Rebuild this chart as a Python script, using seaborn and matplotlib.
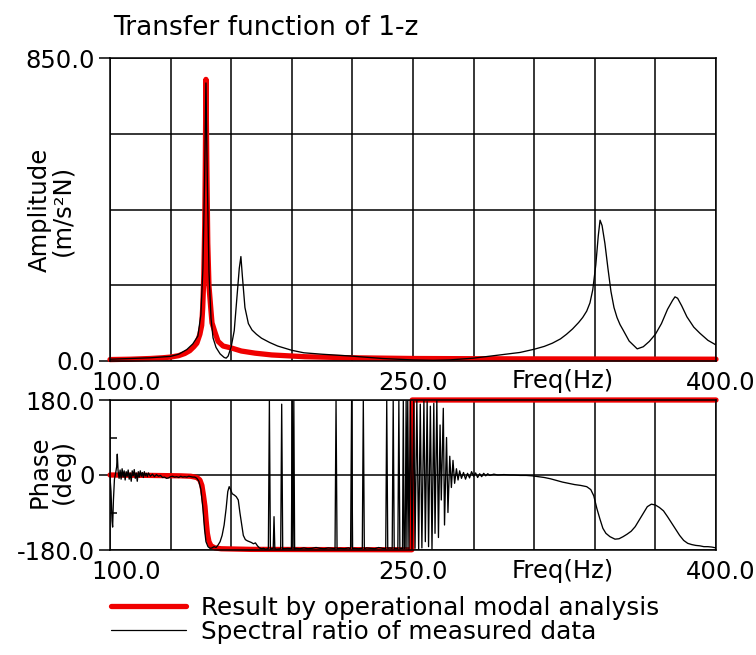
import matplotlib
matplotlib.use("Agg")
import matplotlib.pyplot as plt
import matplotlib.transforms as mtransforms
from matplotlib.lines import Line2D
import pandas as pd
import seaborn as sns

# ---------------- data ----------------
title_text = "Transfer function of 1-z"
legend_labels = ["Result by operational modal analysis", "Spectral ratio of measured data"]
x_ticks = [100, 250, 400]
x_tick_labels = ["100.0", "250.0", "400.0"]
amp_ticks = [0, 850]
amp_tick_labels = ["0.0", "850.0"]
phase_ticks = [-180, 0, 180]
phase_tick_labels = ["-180.0", "0", "180.0"]

amp_red_freq = [100, 110, 120, 126, 130, 134, 137, 139.5, 141.5, 143, 144.5, 145.4, 145.9,
                146.4, 146.9, 147.2, 147.5, 147.9, 148.4, 149, 150, 150.5, 152, 153.5, 156,
                160.4, 165, 171.8, 180, 196.5, 220, 250, 300, 350, 400]
amp_red = [4, 5, 7, 9, 11, 15, 21, 29, 40, 50, 75, 100, 150,
           230, 380, 560, 790, 560, 330, 210, 140, 107, 80, 55, 42,
           36, 28, 22, 17, 12, 9, 7, 6, 5.5, 5]

amp_black_freq = [100, 105, 110, 115, 120, 125, 130, 134, 138, 141, 143.5, 145, 146, 146.8,
                  147.5, 148.2, 149, 150, 151, 152.5, 154.5, 156.5, 157.5, 158.5, 160, 161.5,
                  163, 164, 164.8, 165.5, 166.8, 168.5, 170.3, 172.5, 175, 179, 183, 190, 196,
                  205, 219, 235, 250, 260, 268, 280, 293, 303, 310, 315, 319, 323, 326, 329,
                  332, 334, 336, 337.6, 339, 340.5, 341.7, 342.6, 343.6, 345, 346.5, 348, 349.5,
                  351, 352.5, 354, 357, 361, 364, 367, 370, 373, 376, 378.5, 379.7, 381, 383,
                  385.6, 389, 392, 396, 400]
amp_black = [5, 6, 7, 8, 9, 11, 13, 19, 32, 48, 70, 130, 260, 500,
             780, 500, 250, 120, 65, 38, 20, 10, 8, 14, 40, 85,
             190, 260, 293, 240, 150, 105, 87, 75, 64, 52, 42, 30, 23,
             19, 14, 7, 3, 2, 3, 8, 17, 24, 33, 41, 50, 62, 75, 90,
             108, 122, 140, 163, 200, 270, 350, 395, 380, 330, 260, 195, 150,
             122, 102, 87, 56, 34, 40, 55, 75, 105, 145, 170, 180, 176, 155,
             124, 95, 78, 58, 45]

phase_red_freq = [100, 120, 135, 140, 143, 144.5, 145.5, 146.3, 147, 147.6, 148.2, 149, 150,
                  152, 155, 170, 200, 249.4, 249.6, 300, 400]
phase_red = [0, -1, -2, -3, -6, -12, -25, -50, -75, -110, -140, -160, -170,
             -175, -177, -178.5, -179, -179.5, 180, 180, 180]

phase_black_freq = [
    100.0, 100.5, 101.0, 101.3, 101.7, 102.2, 102.8, 103.3, 103.6, 104.0, 104.5, 105.0, 105.5,
    106.0, 106.5, 107.0, 107.5, 108.0, 108.5, 109.0, 109.5, 110.0, 110.5, 111.0, 111.5, 112.0,
    112.5, 113.0, 113.5, 114.0, 114.5, 115.0, 115.5, 116.0, 116.5, 117.0, 117.5, 118.0, 118.5,
    119.0, 120, 121, 122, 123, 124, 125, 126, 127, 128, 129, 130, 131, 132, 133, 134, 135, 136,
    137, 138, 139, 140, 141, 142, 143,
    144, 145, 146, 146.8, 147.5, 148.5, 149.5, 150.5, 151.5, 152.5, 153.5, 154.5, 155.5, 156.5,
    157.5, 158.3, 159, 159.7, 160.5, 161.5, 162.5, 163.5, 164.3, 165.2, 166, 167, 168, 169, 170,
    171, 172, 173, 174, 175, 176, 177, 178, 178.4,
    178.9, 179.4, 180, 180.8, 181.2, 181.6, 182.5, 184.5, 185, 185.5, 186, 188, 189.8, 190.2,
    190.6, 191.0, 191.4, 192, 194, 196, 198, 200, 202, 204, 206, 208, 210, 211.4, 211.9, 212.4,
    214, 216, 218, 219.1, 219.6, 220.1, 221, 223, 224.9, 225.4, 225.9, 227, 229, 231, 233, 235,
    236.5, 237, 237.5, 238.5, 239.7, 240.2, 240.7, 241.5, 242.5, 243, 243.5, 244.3, 244.8, 245.2,
    245.6, 246.1, 246.6, 247.0, 247.4,
    248.0, 248.7, 249.5, 250.4, 251.0, 251.9, 252.8, 253.6, 254.4, 255.4, 256.1, 257.0, 257.7,
    258.6, 259.4, 260.3, 260.9, 261.8, 262.6, 263.4, 264.0, 265.0, 265.6, 266.6, 267.3, 268.2,
    269.0, 269.8, 270.6, 271.5, 272.3, 273.1, 274, 275, 276, 277, 278, 279, 280, 281, 282, 283,
    284, 285, 286, 287, 288, 290, 292, 295, 298, 300, 303, 306, 309, 312, 315, 318, 321, 324,
    327, 330, 333, 336, 338, 339.5, 341, 342.5, 344, 345.5, 347.5, 350, 352, 354, 356, 358, 360,
    362, 364, 366, 368, 370, 372, 374, 376, 378, 380, 382, 384, 386, 388, 390, 392, 394, 396,
    398, 400]
phase_black = [
    -5, -40, -110, -125, -60, -10, 5, 20, 50, 10, -8, 12, -10,
    15, -5, 10, -12, 8, -3, 12, -10, 5, -15, 10, -2, 13,
    -8, 5, -15, 8, -5, 10, -3, 6, -6, 8, -2, 4, -4,
    5, -3, 2, -4, 1, -3, -1, -6, -5, -8, -7, -4, -3, -5, -4, -6, -3, -5,
    -4, -5, -3, -4, -5, -5, -8,
    -15, -35, -80, -130, -160, -172, -176, -175, -172, -174, -168, -160, -145, -120,
    -80, -40, -28, -35, -45, -48, -52, -60, -90, -120, -145, -155, -158, -160, -162,
    -165, -163, -170, -175, -177, -176, -178, -177, -176,
    178, -178, -177, -176, -100, -177, -178, -177, 170, -178, -177, -176, -177, 178,
    -177, 178, -178, -176, -177, -175, -177, -176, -174, -176, -177, -175, -176, -177, 178, -177,
    -176, -177, -175, -177, 178, -177, -176, -177, -176, 178, -177, -175, -176, -177, -174, -176,
    -177, 178, -176, -175, -176, 178, -177, -176, -177, 178, -177, -176, -177, 178,
    -177, -176, 178, -177, 178,
    -178, 178, -178, 177, -176, 178, -178, 170, -175, 178, -160, 176, -172,
    165, -178, 172, -140, 178, -150, 120, -60, 160, -120, 90, -90, 45,
    -30, 35, -20, 15, -12, 10, -8, 6, -10, 4, -7, 8, -3, 5, -6, 3,
    -4, 4, -2, 3, -1, 2, 0, 1, 0, 0, -1, -1, -2, -4, -6, -9, -13, -17,
    -20, -23, -25, -28, -35, -50, -80, -105, -128, -140, -148, -154, -153, -148, -142, -135, -124,
    -108, -92, -76, -70, -72, -78, -86, -100, -115, -130, -145, -157, -164, -167, -169, -170, -172, -172,
    -173, -175]

# ---------------- style ----------------
sns.set_theme(style="white")
plt.rcParams['font.family'] = ['DejaVu Sans']
plt.rcParams.update({"text.color": "black", "axes.labelcolor": "black",
                     "xtick.color": "black", "ytick.color": "black",
                     "xtick.labelcolor": "black", "ytick.labelcolor": "black"})
RED = "#f00000"
FS = 17.5

fig = plt.figure(figsize=(7.56, 6.55), dpi=100)
W, H = 756, 655
ax1 = fig.add_axes([110 / W, 1 - 361 / H, 606 / W, 303 / H])
ax2 = fig.add_axes([110 / W, 1 - 550 / H, 606 / W, 150 / H])

df_ar = pd.DataFrame({"f": amp_red_freq, "a": amp_red})
df_ab = pd.DataFrame({"f": amp_black_freq, "a": amp_black})
df_pr = pd.DataFrame({"f": phase_red_freq, "p": phase_red})
df_pb = pd.DataFrame({"f": phase_black_freq, "p": phase_black})

sns.lineplot(data=df_ar, x="f", y="a", ax=ax1, color=RED, lw=3.8, estimator=None, sort=False, zorder=3)
sns.lineplot(data=df_ab, x="f", y="a", ax=ax1, color="black", lw=0.95, estimator=None, sort=False, zorder=4)
sns.lineplot(data=df_pr, x="f", y="p", ax=ax2, color=RED, lw=3.8, estimator=None, sort=False, zorder=3)
sns.lineplot(data=df_pb, x="f", y="p", ax=ax2, color="black", lw=0.95, estimator=None, sort=False, zorder=4)
ax1.lines[0].set_clip_on(False)
ax2.lines[0].set_clip_on(False)

minor_x = [130, 160, 190, 220, 280, 310, 340, 370]
for ax in (ax1, ax2):
    ax.set_xlim(100, 400)
    ax.set_xlabel("")
    ax.set_ylabel("")
    ax.set_xticks(x_ticks)
    ax.set_xticklabels(x_tick_labels, fontsize=FS)
    ax.set_xticks(minor_x, minor=True)
    ax.tick_params(axis="x", which="both", length=0, pad=7)
    ax.tick_params(axis="y", which="major", length=8, width=1.1, color="black",
                   direction="out", left=True, pad=3, labelsize=FS)
    ax.grid(True, axis="x", which="both", color="black", lw=1.1)
    for s in ax.spines.values():
        s.set_color("black")
        s.set_linewidth(1.1)
        s.set_zorder(5)
    ax.set_axisbelow(True)
    lbls = ax.get_xticklabels()
    off = mtransforms.ScaledTranslation(16 / 100, 0, fig.dpi_scale_trans)
    lbls[0].set_transform(lbls[0].get_transform() + off)
    off2 = mtransforms.ScaledTranslation(5 / 100, 0, fig.dpi_scale_trans)
    lbls[2].set_transform(lbls[2].get_transform() + off2)

ax1.set_ylim(0, 850)
ax1.set_yticks(amp_ticks)
ax1.set_yticklabels(amp_tick_labels)
ax1.set_yticks([212.5, 425, 637.5], minor=True)
ax1.tick_params(axis="y", which="minor", length=0)
ax1.grid(True, axis="y", which="both", color="black", lw=1.1)

ax2.set_ylim(-180, 180)
ax2.set_yticks(phase_ticks)
ax2.set_yticklabels(phase_tick_labels)
ax2.set_yticks([-90, 90], minor=True)
ax2.tick_params(axis="y", which="minor", length=5, width=1.1, direction="in", left=True, color="black")
ax2.grid(True, axis="y", which="major", color="black", lw=1.1)

fig.text(113 / W, 1 - 28 / H, title_text, fontsize=19, ha="left", va="center")
fig.text(563 / W, 1 - 381 / H, "Freq(Hz)", fontsize=FS, ha="center", va="center")
fig.text(563 / W, 1 - 571 / H, "Freq(Hz)", fontsize=FS, ha="center", va="center")
fig.text(51 / W, 1 - 210 / H, "Amplitude\n(m/s²N)", fontsize=FS, rotation=90,
         ha="center", va="center", multialignment="center", linespacing=0.95)
fig.text(51 / W, 1 - 472 / H, "Phase\n(deg)", fontsize=FS, rotation=90,
         ha="center", va="center", multialignment="center", linespacing=0.95)

handles = [Line2D([], [], color=RED, lw=3.8), Line2D([], [], color="black", lw=0.9)]
fig.legend(handles, legend_labels, loc="upper left", bbox_to_anchor=(111 / W, 1 - 596 / H),
           frameon=False, fontsize=17.8, handlelength=3.05, handletextpad=0.6,
           labelspacing=0.0, borderpad=0, borderaxespad=0)

fig.savefig("out.png", dpi=100)
